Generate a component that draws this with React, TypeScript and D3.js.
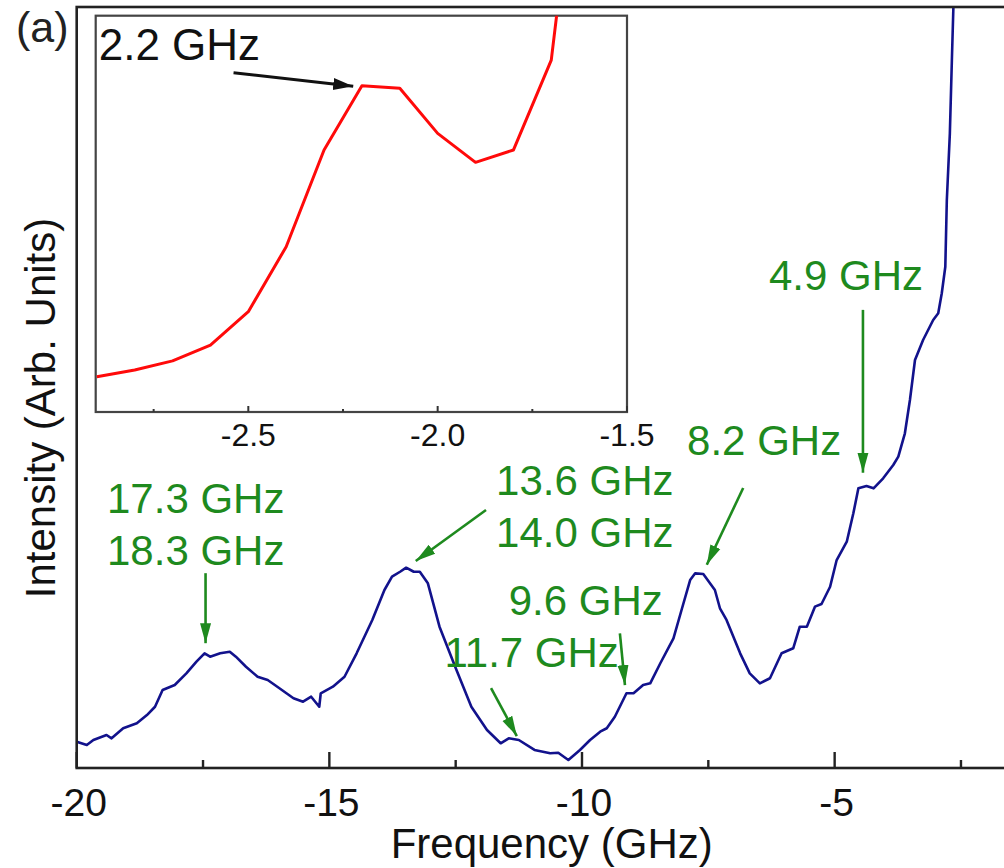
import * as d3 from "d3";

// main spectrum (blue)
const freq = [
  -20.0, -19.8, -19.67, -19.41, -19.31, -19.08, -18.81, -18.61, -18.45, -18.3,
  -18.06, -17.83, -17.63, -17.47, -17.36, -17.16, -16.97, -16.85, -16.65, -16.42,
  -16.22, -16.03, -15.71, -15.52, -15.36, -15.2, -15.17, -14.93, -14.7, -14.46,
  -14.15, -13.91, -13.76, -13.6, -13.48, -13.33, -13.21, -13.05, -12.82, -12.51,
  -12.19, -11.88, -11.61, -11.45, -11.25, -10.94, -10.63, -10.47, -10.27, -10.04,
  -9.84, -9.64, -9.51, -9.35, -9.12, -8.98, -8.79, -8.65, -8.45, -8.19,
  -8.03, -7.86, -7.76, -7.6, -7.37, -7.27, -7.14, -6.87, -6.68, -6.48,
  -6.28, -6.05, -5.82, -5.69, -5.55, -5.39, -5.26, -5.09, -4.96, -4.76,
  -4.63, -4.53, -4.37, -4.23, -4.04, -3.84, -3.74, -3.61, -3.51, -3.41,
  -3.25, -3.05, -2.95, -2.88, -2.81, -2.78, -2.72, -2.68, -2.65, -2.6,
];
const intensity = [
  3.46, 3.02, 3.68, 4.34, 3.9, 5.22, 5.87, 6.96, 8.05, 10.25,
  10.91, 12.44, 13.97, 15.07, 14.63, 15.07, 15.28, 14.63, 13.31, 11.99,
  11.56, 10.68, 9.16, 8.71, 9.37, 8.05, 9.82, 10.68, 11.99, 15.07,
  19.45, 23.39, 25.14, 25.79, 26.32, 25.79, 25.79, 24.27, 18.57, 13.31,
  8.05, 4.99, 3.25, 3.9, 3.68, 2.37, 1.93, 2.01, 1.05, 2.37,
  3.68, 4.77, 5.22, 6.74, 9.82, 9.82, 10.91, 11.13, 13.76, 17.04,
  20.76, 24.7, 25.58, 25.49, 23.39, 20.99, 19.45, 15.07, 12.44, 11.13,
  11.79, 15.07, 15.73, 18.57, 18.57, 21.2, 21.55, 23.82, 27.33, 29.74,
  33.47, 36.75, 37.06, 36.75, 38.07, 39.82, 40.91, 43.98, 48.36, 53.61,
  56.24, 58.87, 59.75, 62.38, 65.87, 74.64, 83.4, 93.04, 100.0, 115.0,
];

// inset (red)
const insetFreq = [-2.9, -2.8, -2.7, -2.6, -2.5, -2.4, -2.3, -2.2, -2.1, -2.0, -1.9, -1.8, -1.7, -1.6];
const insetIntensity = [8.9, 10.6, 12.9, 16.9, 25.3, 41.7, 66.1, 82.3, 81.7, 70.3, 63.0, 66.1, 88.8, 168];

const xMajor = [-20, -15, -10, -5, 0];
const xMajorLabels = ["-20", "-15", "-10", "-5", ""];
const xMinor = [-17.5, -12.5, -7.5, -2.5];
const insetMajor = [-2.5, -2.0, -1.5];
const insetMinor = [-2.75, -2.25, -1.75];

// green peak annotations
const peakLines = [
  ["17.3 GHz", "18.3 GHz"],
  ["13.6 GHz", "14.0 GHz"],
  ["9.6 GHz"],
  ["11.7 GHz"],
  ["8.2 GHz"],
  ["4.9 GHz"],
];
const peakTextAt = [
  [-19.4, 33.5],
  [-11.7, 35.9],
  [-11.45, 20.1],
  [-12.72, 13.3],
  [-7.92, 41.1],
  [-6.3, 62.8],
];
const peakArrowFrom = [
  [-17.45, 25.6],
  [-11.9, 33.9],
  [-9.25, 17.7],
  [-11.8, 10.5],
  [-6.81, 36.8],
  [-4.44, 60.2],
];
const peakArrowTo = [
  [-17.45, 16.4],
  [-13.29, 27.2],
  [-9.15, 10.9],
  [-11.29, 4.2],
  [-7.53, 26.7],
  [-4.44, 38.8],
];

const insetLabel = "2.2 GHz";
const insetLabelAt = [-2.895, 88.8];
const insetArrowFrom = [-2.539, 85.6];
const insetArrowTo = [-2.223, 82.2];

const FONT = "Arial, 'Liberation Sans', sans-serif";
const GREEN = "#1e8a1e";

export default function App() {
  const width = 1004;
  const height = 868;
  const left = 76.7;
  const top = 7;
  const bottom = 768;

  const x = d3.scaleLinear().domain([-20, 0]).range([left, left + 20 * 50.53]);
  const y = d3.scaleLinear().domain([0, 100]).range([bottom, top]);

  const inL = 95.7, inR = 627, inT = 15.7, inB = 412;
  const ix = d3.scaleLinear().domain([-2.903, -1.5]).range([inL, inR]);
  const iy = d3.scaleLinear().domain([0, 100]).range([inB, inT]);

  const mainLine = d3
    .line<number>()
    .x((d, i) => x(freq[i]))
    .y((d) => y(d));
  const insetLine = d3
    .line<number>()
    .x((d, i) => ix(insetFreq[i]))
    .y((d) => iy(d));

  return (
    <svg
      width={width}
      height={height}
      style={{ position: "absolute", left: 0, top: 0, background: "#fff" }}
      fontFamily={FONT}
    >
      <defs>
        <clipPath id="mainClip">
          <rect x={left} y={top} width={width - left} height={bottom - top} />
        </clipPath>
        <clipPath id="insetClip">
          <rect x={inL} y={inT} width={inR - inL} height={inB - inT} />
        </clipPath>
        <marker id="gHead" markerUnits="userSpaceOnUse" markerWidth={22} markerHeight={14}
          refX={20} refY={7} orient="auto">
          <path d="M0,1.5 L20,7 L0,12.5 Z" fill={GREEN} />
        </marker>
        <marker id="kHead" markerUnits="userSpaceOnUse" markerWidth={22} markerHeight={16}
          refX={20} refY={8} orient="auto">
          <path d="M0,2 L20,8 L0,14 Z" fill="#111" />
        </marker>
      </defs>

      <rect width={width} height={height} fill="#fff" />

      <text x={16} y={42} fontSize={43} fill="#222">(a)</text>

      {/* main spectrum */}
      <path d={mainLine(intensity) ?? ""} fill="none" stroke="#12128c" strokeWidth={2.6}
        strokeLinejoin="round" clipPath="url(#mainClip)" />

      {/* main frame */}
      <rect x={left} y={top} width={x(0) - left} height={bottom - top} fill="none"
        stroke="#222" strokeWidth={2.6} />
      {xMajor.map((t, i) => (
        <g key={t}>
          <line x1={x(t)} x2={x(t)} y1={bottom} y2={bottom - 16} stroke="#222" strokeWidth={2.4} />
          <text x={x(t) + 2} y={816} fontSize={39} textAnchor="middle" fill="#111">{xMajorLabels[i]}</text>
        </g>
      ))}
      {xMinor.map((t) => (
        <line key={t} x1={x(t)} x2={x(t)} y1={bottom} y2={bottom - 8} stroke="#222" strokeWidth={2.4} />
      ))}
      <text x={x(-10.6)} y={858} fontSize={42} textAnchor="middle" fill="#111">Frequency (GHz)</text>
      <text transform="translate(55,408) rotate(-90)" fontSize={42} textAnchor="middle" fill="#111">
        Intensity (Arb. Units)
      </text>

      {/* peak annotations */}
      {peakLines.map((lines, i) => (
        <g key={i}>
          {lines.map((s, j) => (
            <text key={s} x={x(peakTextAt[i][0])} y={y(peakTextAt[i][1]) + j * 52} fontSize={42} fill={GREEN}>
              {s}
            </text>
          ))}
          <line x1={x(peakArrowFrom[i][0])} y1={y(peakArrowFrom[i][1])}
            x2={x(peakArrowTo[i][0])} y2={y(peakArrowTo[i][1])}
            stroke={GREEN} strokeWidth={2.6} markerEnd="url(#gHead)" />
        </g>
      ))}

      {/* inset */}
      <rect x={inL} y={inT} width={inR - inL} height={inB - inT} fill="#fff" stroke="#444" strokeWidth={2.2} />
      <path d={insetLine(insetIntensity) ?? ""} fill="none" stroke="#ff0a0a" strokeWidth={3}
        strokeLinejoin="round" clipPath="url(#insetClip)" />
      {insetMajor.map((t) => (
        <g key={t}>
          <line x1={ix(t)} x2={ix(t)} y1={inB} y2={inB - 6} stroke="#333" strokeWidth={2} />
          <text x={ix(t)} y={446} fontSize={32} textAnchor="middle" fill="#111">{t.toFixed(1)}</text>
        </g>
      ))}
      {insetMinor.map((t) => (
        <line key={t} x1={ix(t)} x2={ix(t)} y1={inB} y2={inB - 3} stroke="#333" strokeWidth={2} />
      ))}
      <text x={ix(insetLabelAt[0])} y={iy(insetLabelAt[1])} fontSize={44} fill="#111">{insetLabel}</text>
      <line x1={ix(insetArrowFrom[0])} y1={iy(insetArrowFrom[1])}
        x2={ix(insetArrowTo[0])} y2={iy(insetArrowTo[1])}
        stroke="#111" strokeWidth={3} markerEnd="url(#kHead)" />
    </svg>
  );
}
